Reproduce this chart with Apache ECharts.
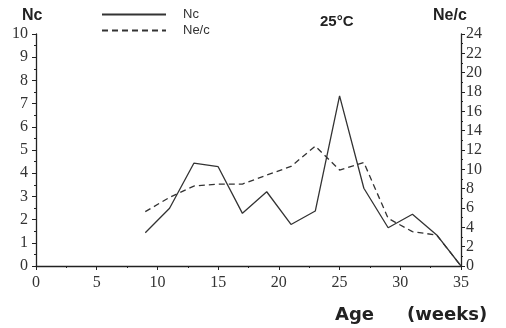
<!DOCTYPE html>
<html><head><meta charset="utf-8">
<script src="https://cdn.jsdelivr.net/npm/echarts@6/dist/echarts.min.js"></script>
<style>html,body{margin:0;padding:0;background:#fff}#c{width:506px;height:328px}</style>
</head><body><div id="c"></div>
<script>
const weeks = [9, 11, 13, 15, 17, 19, 21, 23, 25, 27, 29, 31, 33, 35];
const ncValues = [1.43, 2.49, 4.43, 4.28, 2.27, 3.2, 1.79, 2.37, 7.33, 3.35, 1.65, 2.23, 1.34, 0];
const necValues = [5.62, 7.1, 8.27, 8.48, 8.48, 9.4, 10.3, 12.4, 9.93, 10.7, 4.93, 3.55, 3.2, 0];
const xTicks = [0, 5, 10, 15, 20, 25, 30, 35];
const leftTicks = [0, 1, 2, 3, 4, 5, 6, 7, 8, 9, 10];
const rightTicks = [0, 2, 4, 6, 8, 10, 12, 14, 16, 18, 20, 22, 24];

const serif = '"Liberation Serif", "DejaVu Serif", serif';
const sans = '"Liberation Sans", Arial, sans-serif';
const wide = '"DejaVu Sans", "Liberation Sans", sans-serif';
const axisCommon = {
  axisLine: {show: true, lineStyle: {color: '#222', width: 1.3}},
  axisTick: {show: true, length: 4, lineStyle: {color: '#222'}},
  minorTick: {show: true, splitNumber: 2, length: 2, lineStyle: {color: '#222'}},
  splitLine: {show: false},
  axisLabel: {fontFamily: serif, fontSize: 16, color: '#333'}
};
const chart = echarts.init(document.getElementById('c'), null, {renderer: 'canvas'});
chart.setOption({
  animation: false,
  grid: {left: 36, right: 45, top: 34, bottom: 62},
  title: [
    {text: 'Nc', left: 17, top: 3, textStyle: {fontFamily: sans, fontWeight: 'bold', fontSize: 16, color: '#222'}},
    {text: 'Ne/c', left: 428, top: 3, textStyle: {fontFamily: sans, fontWeight: 'bold', fontSize: 16, color: '#222'}},
    {text: '25°C', left: 315, top: 9, textStyle: {fontFamily: sans, fontWeight: 'bold', fontSize: 15, color: '#222'}},
    {text: 'Age', left: 330, top: 301, textStyle: {fontFamily: wide, fontWeight: 'bold', fontSize: 18, color: '#222'}},
    {text: '(weeks)', left: 402, top: 301, textStyle: {fontFamily: wide, fontWeight: 'bold', fontSize: 18, color: '#222'}}
  ],
  legend: {
    orient: 'vertical', left: 96, top: 3, itemWidth: 64, itemHeight: 14, itemGap: 3,
    itemStyle: {opacity: 0},
    textStyle: {fontFamily: sans, fontSize: 13, color: '#333', padding: [0, 0, 0, 12]},
    data: ['Nc', 'Ne/c']
  },
  xAxis: Object.assign({}, axisCommon, {
    type: 'value', min: xTicks[0], max: xTicks[xTicks.length - 1], interval: 5,
    axisLabel: Object.assign({}, axisCommon.axisLabel, {margin: 9})
  }),
  yAxis: [
    Object.assign({}, axisCommon, {type: 'value', min: leftTicks[0], max: leftTicks[leftTicks.length - 1], interval: 1,
      axisLabel: Object.assign({}, axisCommon.axisLabel, {margin: 8})}),
    Object.assign({}, axisCommon, {type: 'value', position: 'right', min: rightTicks[0], max: rightTicks[rightTicks.length - 1], interval: 2,
      axisLabel: Object.assign({}, axisCommon.axisLabel, {margin: 5})})
  ],
  series: [
    {name: 'Nc', type: 'line', yAxisIndex: 0, symbol: 'none',
      data: weeks.map((w, i) => [w, ncValues[i]]),
      lineStyle: {color: '#333', width: 1.3}, itemStyle: {color: '#333'}},
    {name: 'Ne/c', type: 'line', yAxisIndex: 1, symbol: 'none',
      data: weeks.map((w, i) => [w, necValues[i]]),
      lineStyle: {color: '#333', width: 1.3, type: [6, 4]}, itemStyle: {color: '#333'}}
  ]
});
</script></body></html>
